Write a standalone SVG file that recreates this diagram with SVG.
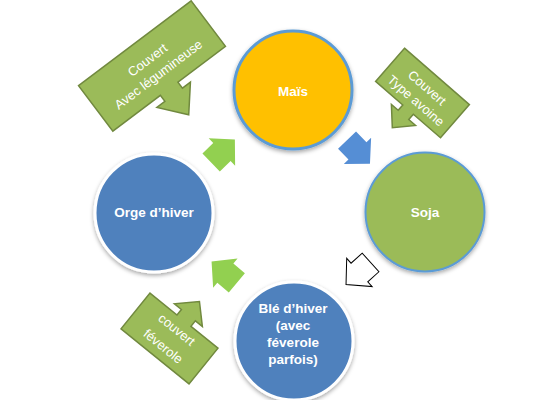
<svg xmlns="http://www.w3.org/2000/svg" width="555" height="400" viewBox="0 0 555 400">
<defs>
<filter id="sh" x="-20%" y="-20%" width="140%" height="150%">
<feDropShadow dx="0" dy="2" stdDeviation="2" flood-color="#000" flood-opacity="0.35"/>
</filter>
<polygon id="arr" points="-16.5,-12.5 -1.5,-12.5 -1.5,-19 16.5,0 -1.5,19 -1.5,12.5 -16.5,12.5"/>
</defs>
<style>
.lbl{font-family:"Liberation Sans",Arial,sans-serif;font-weight:bold;font-size:13.5px;fill:#fff;text-anchor:middle}
.ct{font-family:"Liberation Sans",Arial,sans-serif;font-size:13px;fill:#fff;text-anchor:middle}
.co{fill:#9BBB59;stroke:#71893F;stroke-width:1.5;stroke-linejoin:miter}
</style>
<rect width="555" height="400" fill="#fff"/>
<g id="connectors">
<use href="#arr" transform="translate(223,151) rotate(-44)" fill="#92D050"/>
<use href="#arr" transform="translate(358.5,152) rotate(46)" fill="#558ED5"/>
<use href="#arr" transform="translate(358.3,273.5) rotate(138)" fill="#fff" stroke="#000" stroke-width="1"/>
<use href="#arr" transform="translate(224.2,272.2) rotate(220)" fill="#92D050"/>
</g>
<g id="mais">
<circle cx="293" cy="90" r="59" fill="#FFC000" stroke="#5B9BD5" stroke-width="3" filter="url(#sh)"/>
<text class="lbl" x="293" y="96">Maïs</text>
</g>
<g id="soja">
<circle cx="425" cy="212" r="59.5" fill="#9BBB59" stroke="#5B9BD5" stroke-width="2" filter="url(#sh)"/>
<text class="lbl" x="425" y="217">Soja</text>
</g>
<g id="orge">
<circle cx="154" cy="213" r="59" fill="#4F81BD" stroke="#fff" stroke-width="3" filter="url(#sh)"/>
<text class="lbl" x="154" y="217">Orge d’hiver</text>
</g>
<g id="ble">
<circle cx="294" cy="341" r="59" fill="#4F81BD" stroke="#fff" stroke-width="3" filter="url(#sh)"/>
<text class="lbl" x="293" y="313">Blé d’hiver</text>
<text class="lbl" x="293" y="330">(avec</text>
<text class="lbl" x="293" y="347">féverole</text>
<text class="lbl" x="293" y="364">parfois)</text>
</g>
<g id="callout-legumineuse" transform="translate(152,66) rotate(-37)">
<path class="co" d="M-70.5,-28.5 H70.5 V28.5 H11 V36 H21 L0,61 L-21,36 H-11 V28.5 H-70.5 Z"/>
<text class="ct" x="0" y="-3">Couvert</text>
<text class="ct" x="0" y="15">Avec légumineuse</text>
</g>
<g id="callout-avoine" transform="translate(422.5,93) rotate(41)">
<path class="co" d="M-43,-22 H43 V22 H7 V29 H16 L0,46 L-16,29 H-7 V22 H-43 Z"/>
<text class="ct" x="0" y="-2.5">Couvert</text>
<text class="ct" x="0" y="14.5">Type avoine</text>
</g>
<g id="callout-feverole" transform="translate(169.5,338.5) rotate(39)">
<path class="co" d="M-43.75,-23 H-9 V-30 H-18 L0,-47.6 L18,-30 H9 V-23 H43.75 V23 H-43.75 Z"/>
<text class="ct" x="0" y="-7">couvert</text>
<text class="ct" x="0" y="14.5">féverole</text>
</g>
</svg>
